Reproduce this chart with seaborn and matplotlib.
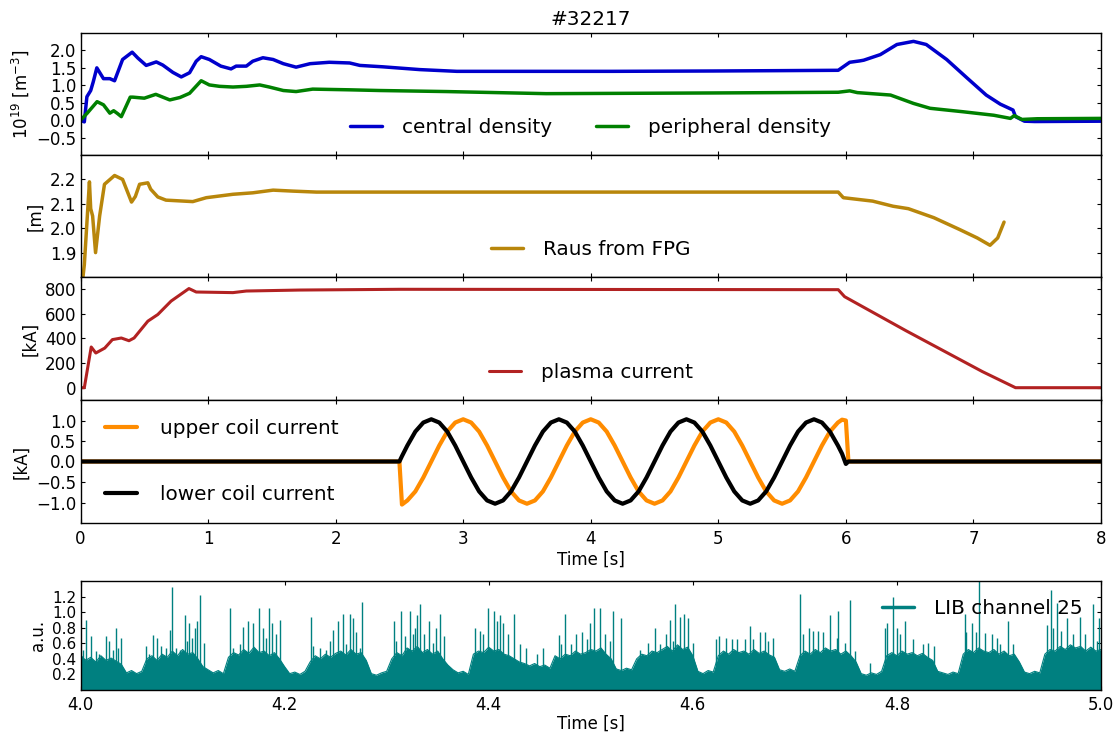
import numpy as np
import matplotlib
matplotlib.use("Agg")
import matplotlib.pyplot as plt
import seaborn as sns
from matplotlib.lines import Line2D

# ---------------- data ----------------
# panel 1: densities [1e19 m^-3]
cd_t = [0.0, 0.03, 0.05, 0.08, 0.10, 0.128, 0.18, 0.23, 0.267, 0.33, 0.405, 0.45, 0.515,
        0.594, 0.645, 0.724, 0.79, 0.855, 0.907, 0.946, 1.01, 1.10, 1.18, 1.22, 1.30, 1.35,
        1.43, 1.51, 1.59, 1.69, 1.80, 1.95, 2.11, 2.19, 2.37, 2.66, 2.95, 4.17, 4.96, 5.48,
        5.94, 6.03, 6.11, 6.14, 6.27, 6.40, 6.53, 6.63, 6.79, 6.95, 7.10, 7.21, 7.31, 7.33,
        7.40, 7.48, 8.0]
cd_v = [0.0, -0.05, 0.67, 0.85, 1.10, 1.50, 1.19, 1.19, 1.13, 1.74, 1.95, 1.78, 1.57,
        1.67, 1.58, 1.37, 1.24, 1.36, 1.69, 1.82, 1.74, 1.55, 1.47, 1.55, 1.55, 1.69,
        1.79, 1.74, 1.62, 1.52, 1.62, 1.66, 1.64, 1.57, 1.53, 1.45, 1.40, 1.40, 1.41, 1.42,
        1.43, 1.66, 1.70, 1.72, 1.88, 2.17, 2.26, 2.17, 1.74, 1.21, 0.72, 0.46, 0.29, 0.10,
        -0.03, -0.04, -0.03]
pd_t = [0.0, 0.05, 0.13, 0.18, 0.23, 0.26, 0.29, 0.32, 0.39, 0.41, 0.50, 0.59, 0.70, 0.78,
        0.855, 0.946, 1.01, 1.09, 1.195, 1.30, 1.405, 1.48, 1.59, 1.69, 1.82, 2.11, 2.345,
        2.87, 3.65, 4.96, 5.48, 5.94, 6.03, 6.09, 6.35, 6.53, 6.66, 6.92, 7.16, 7.29, 7.32,
        7.38, 7.50, 8.0]
pd_v = [0.0, 0.19, 0.53, 0.44, 0.20, 0.27, 0.19, 0.10, 0.66, 0.66, 0.63, 0.74, 0.58, 0.65,
        0.77, 1.13, 1.01, 0.97, 0.95, 0.97, 1.01, 0.95, 0.85, 0.82, 0.89, 0.87, 0.85,
        0.82, 0.76, 0.78, 0.79, 0.80, 0.84, 0.79, 0.72, 0.48, 0.34, 0.24, 0.14, 0.05, 0.13,
        0.02, 0.04, 0.05]

# panel 2: Raus from FPG [m]
raus_t = [0.015, 0.03, 0.07, 0.08, 0.095, 0.118, 0.135, 0.15, 0.188, 0.267, 0.33, 0.40,
          0.43, 0.463, 0.528, 0.55, 0.606, 0.67, 0.88, 0.986, 1.195, 1.35, 1.51, 1.665,
          1.85, 5.94, 5.98, 6.21, 6.37, 6.49, 6.69, 6.89, 7.03, 7.13, 7.19, 7.24]
raus_v = [1.78, 1.85, 2.19, 2.08, 2.05, 1.90, 1.98, 2.05, 2.18, 2.216, 2.20, 2.107,
          2.13, 2.18, 2.186, 2.16, 2.128, 2.115, 2.109, 2.125, 2.139, 2.145, 2.156, 2.152,
          2.148, 2.148, 2.125, 2.111, 2.09, 2.08, 2.043, 1.995, 1.96, 1.93, 1.96, 2.025]

# panel 3: plasma current [kA]
ip_t = [0.0, 0.03, 0.084, 0.12, 0.19, 0.25, 0.32, 0.38, 0.42, 0.528, 0.606, 0.71, 0.85,
        0.907, 1.195, 1.30, 1.72, 2.5, 5.94, 5.99, 6.47, 7.07, 7.33, 8.0]
ip_v = [0, 0, 331, 282, 322, 391, 404, 382, 404, 541, 595, 704, 806,
        778, 773, 786, 794, 800, 797, 740, 464, 131, 0, 0]

# panel 4: coil currents [kA], sampled every 1/16 s during the 2.5-6.0 s pulse
coil_t = [0.0, 2.5, 2.52, 2.5625, 2.625, 2.6875, 2.75, 2.8125, 2.875, 2.9375, 3.0, 3.0625,
          3.125, 3.1875, 3.25, 3.3125, 3.375, 3.4375, 3.5, 3.5625, 3.625, 3.6875, 3.75,
          3.8125, 3.875, 3.9375, 4.0, 4.0625, 4.125, 4.1875, 4.25, 4.3125, 4.375, 4.4375,
          4.5, 4.5625, 4.625, 4.6875, 4.75, 4.8125, 4.875, 4.9375, 5.0, 5.0625, 5.125,
          5.1875, 5.25, 5.3125, 5.375, 5.4375, 5.5, 5.5625, 5.625, 5.6875, 5.75, 5.8125,
          5.875, 5.9375, 5.97, 6.0, 6.02, 8.0]
upper_v = [0.0, 0.0, -1.05, -0.95, -0.73, -0.39, 0.0, 0.39, 0.73, 0.95, 1.03, 0.95,
           0.73, 0.39, 0.0, -0.39, -0.73, -0.95, -1.03, -0.95, -0.73, -0.39, 0.0,
           0.39, 0.73, 0.95, 1.03, 0.95, 0.73, 0.39, 0.0, -0.39, -0.73, -0.95,
           -1.03, -0.95, -0.73, -0.39, 0.0, 0.39, 0.73, 0.95, 1.03, 0.95, 0.73,
           0.39, 0.0, -0.39, -0.73, -0.95, -1.03, -0.95, -0.73, -0.39, 0.0, 0.39,
           0.73, 0.95, 1.02, 1.0, 0.0, 0.0]
lower_v = [0.0, 0.0, 0.13, 0.39, 0.73, 0.95, 1.03, 0.95, 0.73, 0.39, 0.0, -0.39,
           -0.73, -0.95, -1.03, -0.95, -0.73, -0.39, 0.0, 0.39, 0.73, 0.95, 1.03,
           0.95, 0.73, 0.39, 0.0, -0.39, -0.73, -0.95, -1.03, -0.95, -0.73, -0.39,
           0.0, 0.39, 0.73, 0.95, 1.03, 0.95, 0.73, 0.39, 0.0, -0.39, -0.73,
           -0.95, -1.03, -0.95, -0.73, -0.39, 0.0, 0.39, 0.73, 0.95, 1.03, 0.95,
           0.73, 0.39, 0.19, -0.06, 0.0, 0.0]

# panel 5: LIB channel 25 [a.u.] -- dense envelope and individual spikes
lib_env_t = [4.000, 4.005, 4.010, 4.015, 4.020, 4.025, 4.030, 4.035, 4.040,
             4.045, 4.050, 4.055, 4.060,
             4.065, 4.070, 4.075, 4.080, 4.085, 4.090, 4.095, 4.100, 4.105, 4.110, 4.115, 4.120,
             4.125, 4.130, 4.135, 4.140,
             4.145, 4.150, 4.155, 4.160, 4.165, 4.170, 4.175, 4.180, 4.185, 4.190, 4.195, 4.200,
             4.205, 4.210, 4.215, 4.220,
             4.225, 4.230, 4.235, 4.240, 4.245, 4.250, 4.255, 4.260, 4.265, 4.270, 4.275, 4.280,
             4.285, 4.290, 4.295, 4.300,
             4.305, 4.310, 4.315, 4.320, 4.325, 4.330, 4.335, 4.340, 4.345, 4.350, 4.355, 4.360,
             4.365, 4.370, 4.375, 4.380,
             4.385, 4.390, 4.395, 4.400, 4.405, 4.410, 4.415, 4.420, 4.425, 4.430, 4.435, 4.440,
             4.445, 4.450, 4.455, 4.460,
             4.465, 4.470, 4.475, 4.480, 4.485, 4.490, 4.495, 4.500, 4.505, 4.510, 4.515, 4.520,
             4.525, 4.530, 4.535, 4.540,
             4.545, 4.550, 4.555, 4.560, 4.565, 4.570, 4.575, 4.580, 4.585, 4.590, 4.595, 4.600,
             4.605, 4.610, 4.615, 4.620,
             4.625, 4.630, 4.635, 4.640, 4.645, 4.650, 4.655, 4.660, 4.665, 4.670, 4.675, 4.680,
             4.685, 4.690, 4.695, 4.700,
             4.705, 4.710, 4.715, 4.720, 4.725, 4.730, 4.735, 4.740, 4.745, 4.750, 4.755, 4.760,
             4.765, 4.770, 4.775, 4.780, 4.785,
             4.790, 4.795, 4.800, 4.805, 4.810, 4.815, 4.820, 4.825, 4.830, 4.835,
             4.840, 4.845, 4.850, 4.855, 4.860,
             4.865, 4.870, 4.875, 4.880, 4.885, 4.890, 4.895, 4.900, 4.905, 4.910, 4.915, 4.920,
             4.925, 4.930, 4.935, 4.940,
             4.945, 4.950, 4.955, 4.960, 4.965, 4.970, 4.975, 4.980, 4.985, 4.990, 4.995, 5.000]
lib_env_v = [0.45, 0.38, 0.42, 0.36, 0.44, 0.38, 0.41, 0.37, 0.33,
             0.22, 0.25, 0.21, 0.24,
             0.40, 0.44, 0.38, 0.46, 0.42, 0.50, 0.44, 0.52, 0.46, 0.48, 0.40, 0.30,
             0.26, 0.22, 0.25, 0.21,
             0.42, 0.48, 0.45, 0.52, 0.47, 0.55, 0.48, 0.50, 0.44, 0.48, 0.40, 0.30,
             0.21, 0.23, 0.20, 0.24,
             0.36, 0.44, 0.40, 0.46, 0.42, 0.47, 0.50, 0.45, 0.52, 0.46, 0.48, 0.38,
             0.21, 0.19, 0.22, 0.24,
             0.40, 0.48, 0.44, 0.54, 0.50, 0.56, 0.48, 0.52, 0.46, 0.50, 0.40, 0.32,
             0.26, 0.22, 0.24, 0.20,
             0.46, 0.50, 0.48, 0.55, 0.50, 0.52, 0.46, 0.44, 0.40, 0.36, 0.34, 0.31,
             0.34, 0.30, 0.32, 0.28,
             0.44, 0.40, 0.46, 0.44, 0.50, 0.46, 0.48, 0.52, 0.50, 0.54, 0.46, 0.40,
             0.27, 0.25, 0.28, 0.26,
             0.40, 0.46, 0.44, 0.50, 0.48, 0.52, 0.56, 0.50, 0.58, 0.52, 0.55, 0.44,
             0.24, 0.21, 0.25, 0.23,
             0.44, 0.50, 0.46, 0.52, 0.48, 0.50, 0.46, 0.52, 0.47, 0.50, 0.45, 0.42,
             0.26, 0.24, 0.27, 0.24,
             0.44, 0.50, 0.46, 0.52, 0.48, 0.54, 0.50, 0.52, 0.46, 0.50, 0.44, 0.36,
             0.21, 0.19, 0.22, 0.20, 0.24,
             0.44, 0.48, 0.44, 0.50, 0.46, 0.48, 0.44, 0.47, 0.42, 0.38,
             0.24, 0.22, 0.20, 0.23, 0.21,
             0.46, 0.52, 0.48, 0.54, 0.50, 0.48, 0.52, 0.46, 0.50, 0.44, 0.46, 0.36,
             0.23, 0.21, 0.24, 0.22,
             0.46, 0.52, 0.50, 0.56, 0.52, 0.58, 0.54, 0.56, 0.50, 0.55, 0.50, 0.52]
spike_t = [4.0056, 4.0105, 4.0245, 4.0343, 4.0399, 4.0709, 4.0748, 4.0879, 4.0899, 4.1020,
           4.1068, 4.1118, 4.1140, 4.1167, 4.1467, 4.1591, 4.1640, 4.1745, 4.1788, 4.1843,
           4.1879, 4.1951, 4.2261, 4.2474, 4.2523, 4.2572, 4.2637, 4.2670, 4.2758, 4.3068,
           4.3144, 4.3225, 4.3274, 4.3300, 4.3330, 4.3415, 4.3480, 4.3520, 4.3559, 4.3863,
           4.3994, 4.4049, 4.4082, 4.4114, 4.4245, 4.4304, 4.4533, 4.4690, 4.4752, 4.4918,
           4.4997, 4.5029, 4.5088, 4.5219, 4.5301, 4.5627, 4.5775, 4.5830, 4.5873, 4.5915,
           4.5954, 4.6225, 4.6330, 4.6559, 4.6657, 4.6706, 4.6788, 4.7055, 4.7141, 4.7278,
           4.7343, 4.7425, 4.7539, 4.7899, 4.7964, 4.7997, 4.8078, 4.8307, 4.8363, 4.8667,
           4.8732, 4.8804, 4.8863, 4.8977, 4.9092, 4.9467, 4.9510, 4.9572, 4.9663, 4.9794,
           4.9925, 4.9980,
           4.0023, 4.0154, 4.0186, 4.0284, 4.0317, 4.0366, 4.0644, 4.0676, 4.0791, 4.0833,
           4.0938, 4.0971, 4.1042, 4.1095, 4.1206, 4.1493, 4.1559, 4.1690, 4.1820, 4.1918,
           4.2278, 4.2343, 4.2408, 4.2448, 4.2605, 4.2703, 4.2735, 4.3095, 4.3176, 4.3258,
           4.337, 4.345, 4.391, 4.394, 4.414, 4.419, 4.437, 4.447, 4.471, 4.481, 4.486,
           4.496, 4.514, 4.519, 4.548, 4.556, 4.568, 4.574, 4.581, 4.600, 4.626, 4.638,
           4.643, 4.651, 4.659, 4.674, 4.708, 4.718, 4.723, 4.741, 4.749, 4.759, 4.774,
           4.788, 4.803, 4.816, 4.826, 4.868, 4.878, 4.893, 4.901, 4.914, 4.953, 4.961,
           4.973, 4.984, 4.996]
spike_v = [0.90, 0.69, 0.69, 0.79, 0.67, 0.71, 0.67, 0.77, 1.32, 0.96,
           0.86, 0.79, 0.88, 1.22, 1.05, 0.81, 0.88, 1.05, 0.79, 1.05,
           0.86, 0.90, 0.94, 0.77, 0.88, 0.98, 0.98, 0.92, 1.13, 0.88,
           1.01, 1.01, 0.79, 0.96, 1.11, 0.88, 0.79, 0.98, 0.69, 0.79,
           1.05, 1.01, 0.88, 0.96, 0.98, 0.59, 0.54, 0.71, 0.97, 0.75,
           0.86, 1.05, 1.05, 1.01, 0.92, 0.79, 0.90, 1.11, 0.94, 0.98,
           0.92, 0.65, 0.67, 0.82, 0.75, 0.75, 0.67, 1.23, 0.80, 0.75,
           0.96, 1.01, 1.16, 0.86, 1.20, 0.79, 0.88, 0.61, 0.57, 0.98,
           0.86, 1.40, 0.73, 0.67, 0.88, 0.84, 1.29, 1.12, 0.92, 0.94,
           1.10, 0.92,
           0.52, 0.50, 0.46, 0.63, 0.52, 0.54, 0.57, 0.46, 0.57, 0.54,
           0.54, 0.52, 0.63, 0.67, 0.61, 0.54, 0.59, 0.86, 0.67, 0.72,
           0.57, 0.54, 0.52, 0.63, 0.59, 0.74, 0.54, 0.63, 0.69, 0.72,
           0.72, 0.61, 0.76, 0.72, 0.86, 0.72, 0.54, 0.46, 0.59, 0.59, 0.72,
           0.65, 0.72, 0.63, 0.52, 0.61, 0.59, 0.72, 0.63, 0.61, 0.69, 0.65,
           0.65, 0.65, 0.65, 0.63, 0.72, 0.76, 0.76, 0.67, 0.61, 0.50, 0.35,
           0.80, 0.72, 0.65, 0.59, 0.74, 0.74, 0.72, 0.59, 0.59, 0.80, 0.76,
           0.72, 0.72, 0.63]

# ---------------- style ----------------
sns.set_theme(style="ticks")
plt.rcParams.update({
    "font.family": ["DejaVu Sans"],
    "font.size": 12,
    "axes.labelsize": 12,
    "axes.titlesize": 14.4,
    "xtick.labelsize": 12,
    "ytick.labelsize": 12,
    "xtick.direction": "in",
    "ytick.direction": "in",
    "xtick.top": True,
    "ytick.right": True,
    "xtick.major.size": 3,
    "ytick.major.size": 3,
    "xtick.major.width": 0.8,
    "ytick.major.width": 0.8,
    "xtick.major.pad": 5,
    "ytick.major.pad": 3,
    "axes.linewidth": 1.0,
    "axes.edgecolor": "black",
    "xtick.color": "black",
    "ytick.color": "black",
    "axes.labelcolor": "black",
    "text.color": "black",
    "legend.frameon": False,
    "axes.unicode_minus": True,
})

W, H = 1118, 736
fig = plt.figure(figsize=(W / 100, H / 100), dpi=100)


def rect(x0, y0, x1, y1):
    return [x0 / W, 1 - y1 / H, (x1 - x0) / W, (y1 - y0) / H]


L, R = 80.5, 1101
ax1 = fig.add_axes(rect(L, 33, R, 155))
ax2 = fig.add_axes(rect(L, 155, R, 277), sharex=ax1)
ax3 = fig.add_axes(rect(L, 277, R, 400), sharex=ax1)
ax4 = fig.add_axes(rect(L, 400, R, 523), sharex=ax1)
ax5 = fig.add_axes(rect(L, 581, R, 690))

leg_kw = dict(fontsize=14.4, handlelength=1.6, handletextpad=1.0, frameon=False)

# panel 1
sns.lineplot(x=cd_t, y=cd_v, ax=ax1, color="#0000cc", lw=2.5, sort=False,
             estimator=None, label="central density")
sns.lineplot(x=pd_t, y=pd_v, ax=ax1, color="#008000", lw=2.5, sort=False,
             estimator=None, label="peripheral density")
ax1.set_ylim(-1.0, 2.5)
ax1.set_yticks([-0.5, 0.0, 0.5, 1.0, 1.5, 2.0])
ax1.set_ylabel(r"$10^{19}$ [m$^{-3}$]")
ax1.legend(loc="lower center", ncol=2, columnspacing=2.2, **leg_kw)
ax1.set_title("#32217")

# panel 2
sns.lineplot(x=raus_t, y=raus_v, ax=ax2, color="#b8860b", lw=2.5, sort=False,
             estimator=None, label="Raus from FPG")
ax2.set_ylim(1.8, 2.3)
ax2.set_yticks([1.9, 2.0, 2.1, 2.2])
ax2.set_ylabel("[m]")
ax2.legend(loc="lower center", **leg_kw)

# panel 3
sns.lineplot(x=ip_t, y=ip_v, ax=ax3, color="#b22222", lw=2.2, sort=False,
             estimator=None, label="plasma current")
ax3.set_ylim(-100, 900)
ax3.set_yticks([0, 200, 400, 600, 800])
ax3.set_ylabel("[kA]")
ax3.legend(loc="lower center", **leg_kw)

# panel 4
sns.lineplot(x=coil_t, y=upper_v, ax=ax4, color="#ff8c00", lw=3, sort=False,
             estimator=None, label="upper coil current")
sns.lineplot(x=coil_t, y=lower_v, ax=ax4, color="black", lw=3, sort=False,
             estimator=None, label="lower coil current")
ax4.set_ylim(-1.5, 1.5)
ax4.set_yticks([-1.0, -0.5, 0.0, 0.5, 1.0])
ax4.set_ylabel("[kA]")
ax4.legend(loc="center left", labelspacing=2.35, borderaxespad=0.8,
           fontsize=14.4, handlelength=1.6, handletextpad=1.15, frameon=False)
ax4.set_xlim(0, 8)
ax4.set_xticks(range(0, 9))
ax4.set_xlabel("Time [s]", labelpad=2)

for ax in (ax1, ax2, ax3):
    ax.tick_params(labelbottom=False)
    ax.set_xlabel("")

# panel 5
teal = "#008080"
ax5.fill_between(lib_env_t, 0, lib_env_v, color=teal, lw=0)
sns.lineplot(x=lib_env_t, y=lib_env_v, ax=ax5, color=teal, lw=0.8, sort=False,
             estimator=None)
ax5.vlines(spike_t, 0, spike_v, color=teal, lw=1.0)
ax5.set_xlim(4.0, 5.0)
ax5.set_ylim(0, 1.4)
ax5.set_xticks([4.0, 4.2, 4.4, 4.6, 4.8, 5.0])
ax5.set_xticklabels(["4.0", "4.2", "4.4", "4.6", "4.8", "5.0"])
ax5.set_yticks([0.2, 0.4, 0.6, 0.8, 1.0, 1.2])
ax5.tick_params(axis="y", labelsize=11)
ax5.tick_params(axis="x", pad=4)
ax5.set_ylabel("a.u.")
ax5.set_xlabel("Time [s]", labelpad=1)
ax5.legend(handles=[Line2D([], [], color=teal, lw=2.5)], labels=["LIB channel 25"],
           loc="upper right", **leg_kw)

for ax in (ax1, ax2, ax3, ax4, ax5):
    for s in ax.spines.values():
        s.set_visible(True)
        s.set_color("black")

fig.savefig("out.png", dpi=100)
